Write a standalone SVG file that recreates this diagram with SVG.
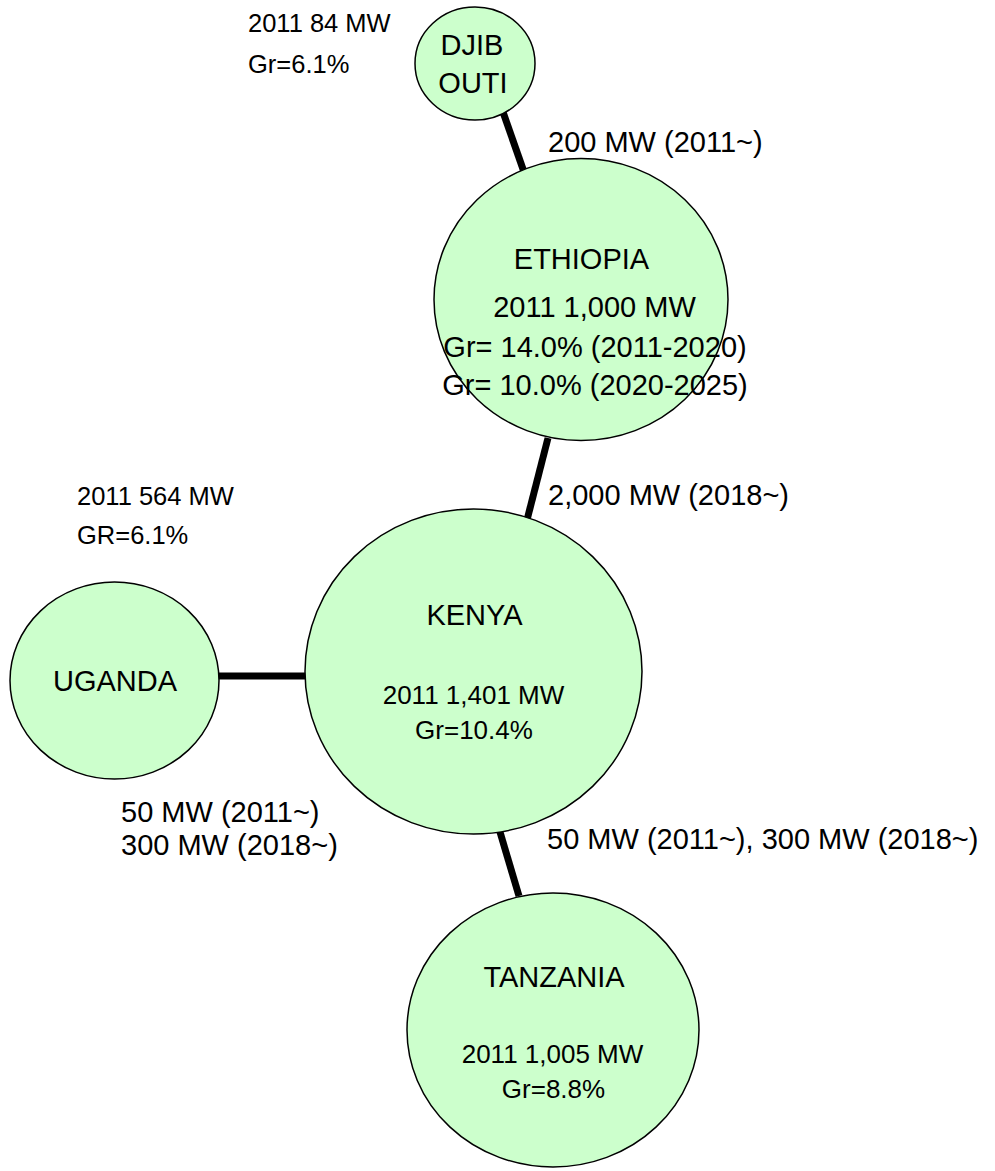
<svg xmlns="http://www.w3.org/2000/svg" width="995" height="1171" viewBox="0 0 995 1171">
<style>
.node{fill:#ccffcc;stroke:#000;stroke-width:1.5}
.conn{stroke:#000;stroke-width:7;stroke-linecap:butt;fill:none}
text{font-family:"Liberation Sans",Arial,sans-serif;fill:#000}
.big{font-size:29px}
.mid{font-size:26px}
.sm{font-size:25.5px}
.c{text-anchor:middle}
</style>
<rect width="995" height="1171" fill="#fff"/>
<g id="connectors">
<line class="conn" x1="503" y1="112" x2="524" y2="172"/>
<line class="conn" x1="548" y1="438" x2="527" y2="520"/>
<line class="conn" x1="217" y1="676" x2="306" y2="676"/>
<line class="conn" x1="500" y1="832" x2="519" y2="896"/>
</g>
<g id="djibouti">
<ellipse class="node" cx="475" cy="63.5" rx="60" ry="56.5"/>
<text class="big c" x="472" y="55">DJIB</text>
<text class="big c" x="473" y="93">OUTI</text>
</g>
<g id="ethiopia">
<ellipse class="node" cx="581" cy="299.5" rx="147" ry="141"/>
<text class="big c" x="581.5" y="269">ETHIOPIA</text>
<text class="big c" x="594.5" y="317">2011 1,000 MW</text>
<text class="big c" x="595" y="357">Gr= 14.0% (2011-2020)</text>
<text class="big c" x="595" y="395">Gr= 10.0% (2020-2025)</text>
</g>
<g id="kenya">
<ellipse class="node" cx="473.5" cy="671.5" rx="168.5" ry="162.5"/>
<text class="big c" x="474.5" y="625">KENYA</text>
<text class="mid c" x="473.5" y="704">2011 1,401 MW</text>
<text class="mid c" x="474" y="739">Gr=10.4%</text>
</g>
<g id="uganda">
<ellipse class="node" cx="114.5" cy="680.5" rx="104.5" ry="98.5"/>
<text class="big c" x="115" y="691">UGANDA</text>
</g>
<g id="tanzania">
<ellipse class="node" cx="553" cy="1030" rx="146" ry="137"/>
<text class="big c" x="554" y="987">TANZANIA</text>
<text class="mid c" x="552.5" y="1063">2011 1,005 MW</text>
<text class="mid c" x="553.5" y="1098">Gr=8.8%</text>
</g>
<g id="labels">
<text class="sm" x="248" y="32">2011 84 MW</text>
<text class="sm" x="248" y="73">Gr=6.1%</text>
<text class="big" x="548" y="152">200 MW (2011~)</text>
<text class="big" x="548" y="505">2,000 MW (2018~)</text>
<text class="sm" x="77" y="505">2011 564 MW</text>
<text class="sm" x="77" y="544">GR=6.1%</text>
<text class="big" x="121" y="822">50 MW (2011~)</text>
<text class="big" x="121" y="855">300 MW (2018~)</text>
<text class="big" x="547" y="849">50 MW (2011~), 300 MW (2018~)</text>
</g>
</svg>
